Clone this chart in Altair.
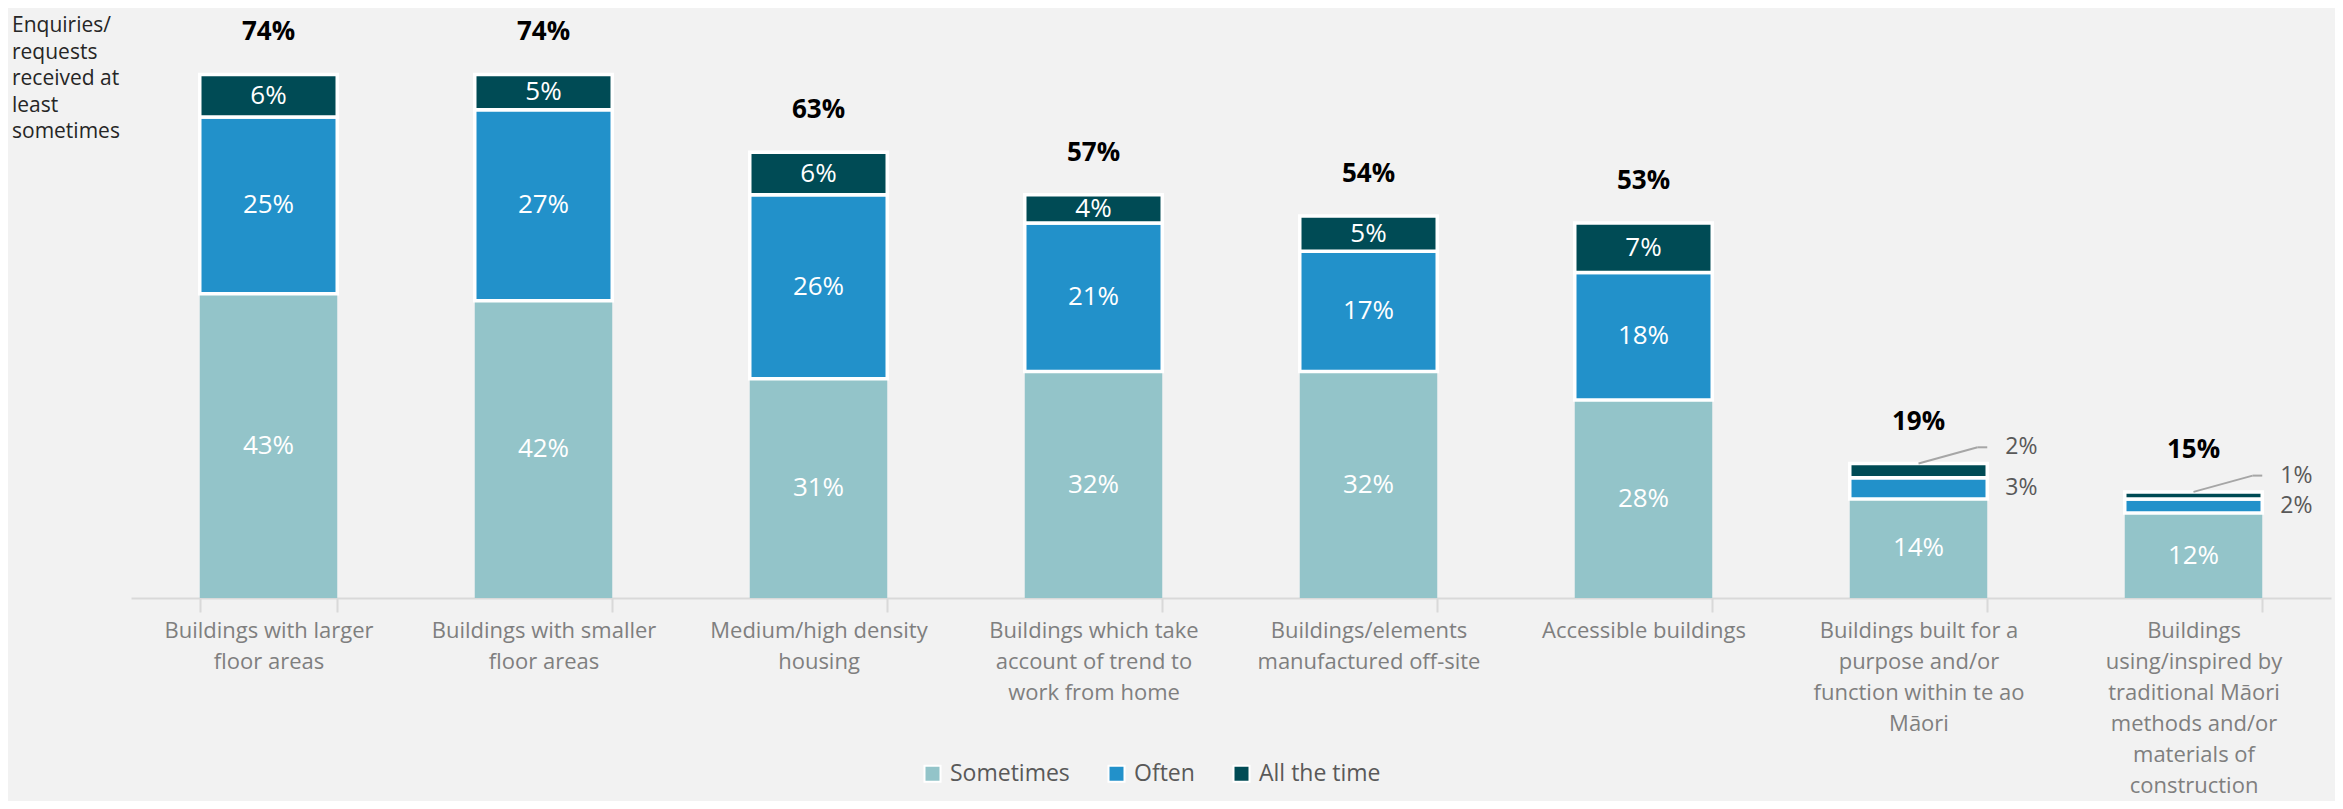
import json
import altair as alt
import pandas as pd

FONT = "Open Sans"

categories = [
    "Buildings with larger floor areas",
    "Buildings with smaller floor areas",
    "Medium/high density housing",
    "Buildings which take account of trend to work from home",
    "Buildings/elements manufactured off-site",
    "Accessible buildings",
    "Buildings built for a purpose and/or function within te ao Māori",
    "Buildings using/inspired by traditional Māori methods and/or materials of construction",
]
label_lines = [
    ["Buildings with larger", "floor areas"],
    ["Buildings with smaller", "floor areas"],
    ["Medium/high density", "housing"],
    ["Buildings which take", "account of trend to", "work from home"],
    ["Buildings/elements", "manufactured off-site"],
    ["Accessible buildings"],
    ["Buildings built for a", "purpose and/or", "function within te ao", "Māori"],
    ["Buildings", "using/inspired by", "traditional Māori", "methods and/or", "materials of", "construction"],
]
series = ["Sometimes", "Often", "All the time"]
sometimes = [43, 42, 31, 32, 32, 28, 14, 12]
often = [25, 27, 26, 21, 17, 18, 3, 2]
all_time = [6, 5, 6, 4, 5, 7, 2, 1]
totals = [74, 74, 63, 57, 54, 53, 19, 15]
colors = ["#93C4C9", "#2291CA", "#004B55"]
title_lines = ["Enquiries/", "requests", "received at", "least", "sometimes"]

rows = []
for i, c in enumerate(categories):
    base = 0
    for k, (s, vals) in enumerate(zip(series, [sometimes, often, all_time])):
        v = vals[i]
        rows.append(dict(category=c, series=s, order=k, value=v, start=base,
                         end=base + v, mid=base + v / 2, total=totals[i],
                         label=f"{v}%"))
        base += v
df = pd.DataFrame(rows)
tot_df = pd.DataFrame({"category": categories, "total": totals,
                       "label": [f"{t}%" for t in totals]})

label_expr = (json.dumps(label_lines, ensure_ascii=False)
              + "[indexof(" + json.dumps(categories, ensure_ascii=False)
              + ", datum.label)]")

x_enc = alt.X(
    "category:N", sort=categories, title=None,
    scale=alt.Scale(paddingInner=0.5, paddingOuter=0.25),
    axis=alt.Axis(labelExpr=label_expr, tickBand="extent", labelAngle=0,
                  domainColor="#D9D9D9", domainWidth=2, tickColor="#D9D9D9",
                  tickWidth=2, tickSize=14, labelColor="#7F7F7F",
                  labelFontSize=22, labelLineHeight=31, labelPadding=8,
                  labelBaseline="top", labelLimit=400, labelFont=FONT,
                  grid=False),
)
y_scale = alt.Scale(domain=[0, 80])

bars = alt.Chart(df).mark_bar(stroke="white").encode(
    x=x_enc,
    y=alt.Y("start:Q", scale=y_scale, axis=None),
    y2="end:Q",
    color=alt.Color(
        "series:N",
        scale=alt.Scale(domain=series, range=colors),
        legend=alt.Legend(orient="none", legendX=790, legendY=730,
                          direction="horizontal", title=None,
                          symbolType="square", symbolSize=256,
                          labelFontSize=23, labelColor="#595959",
                          labelFont=FONT, columnPadding=34, labelOffset=6,
                          symbolStrokeColor="white", symbolStrokeWidth=2),
    ),
    strokeWidth=alt.condition(alt.datum.series == "Sometimes",
                              alt.value(0), alt.value(3.5)),
    order="order:Q",
)

inside = alt.Chart(df).transform_filter("datum.value >= 4").mark_text(
    color="white", fontSize=26, font=FONT, baseline="middle"
).encode(x=x_enc, y=alt.Y("mid:Q", scale=y_scale), text="label:N")

outside = alt.Chart(df).transform_filter("datum.value < 4").transform_calculate(
    ly="datum.series == 'Often' ? datum.mid : datum.total + 2.3"
).mark_text(color="#595959", fontSize=23, font=FONT, align="left",
            baseline="middle", dx=18).encode(
    x=alt.X("category:N", sort=categories, bandPosition=1),
    y=alt.Y("ly:Q", scale=y_scale), text="label:N")

lead_base = alt.Chart(df).transform_filter(
    "datum.value < 4 && datum.series == 'All the time'"
).transform_calculate(ly="datum.total + 2.3")

leader1 = lead_base.mark_rule(color="#A6A6A6", strokeWidth=2).encode(
    x=alt.X("category:N", sort=categories, bandPosition=0.5),
    x2=alt.X2("category:N", bandPosition=0.93),
    y=alt.Y("total:Q", scale=y_scale), y2="ly:Q")
leader2 = lead_base.mark_rule(color="#A6A6A6", strokeWidth=2).encode(
    x=alt.X("category:N", sort=categories, bandPosition=0.93),
    x2=alt.X2("category:N", bandPosition=1.0),
    y=alt.Y("ly:Q", scale=y_scale))

totals_txt = alt.Chart(tot_df).mark_text(
    fontSize=26, fontWeight="bold", font=FONT, color="black", dy=-42,
    baseline="middle"
).encode(x=x_enc, y=alt.Y("total:Q", scale=y_scale), text="label:N")

title_txt = alt.Chart(pd.DataFrame({"t": ["\n".join(title_lines)]})).mark_text(
    align="left", baseline="top", lineBreak="\n", fontSize=21,
    lineHeight=26.5, font=FONT, color="#262626"
).encode(x=alt.value(-119), y=alt.value(-17), text="t:N")

chart = alt.layer(bars, inside, outside, leader1, leader2, totals_txt,
                  title_txt).properties(
    width=2200, height=566,
    padding={"left": 123, "top": 24, "right": 4, "bottom": 203},
    autosize=alt.AutoSizeParams(type="none"),
    background="#F2F2F2",
).configure_view(stroke=None)

chart.save("out.html", embed_options={"renderer": "svg", "actions": False})
